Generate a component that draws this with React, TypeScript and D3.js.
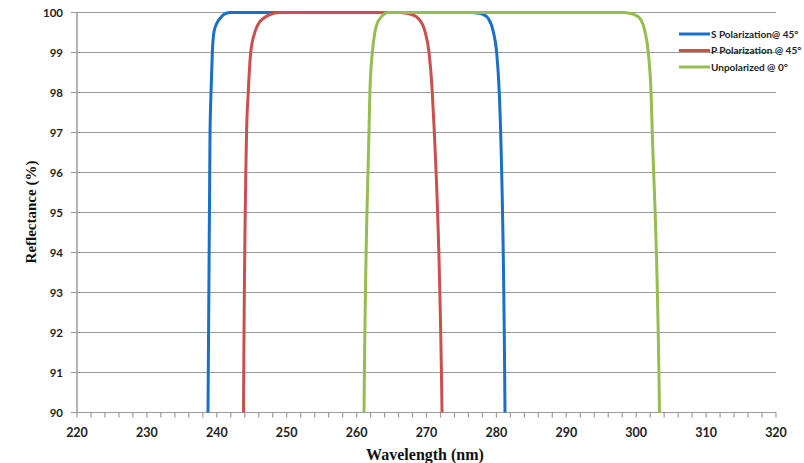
import React from "react";
import * as d3 from "d3";

// S polarization @ 45 deg (blue)
const sWave = [238.62, 238.74, 239.03, 239.17, 239.36, 239.6, 240.0, 240.46, 241.0, 241.9, 276.5, 277.2, 278.1, 278.84, 279.56, 280.04, 280.41, 280.61, 281.23, 281.35];
const sRefl = [85, 90, 97, 98, 99, 99.52, 99.73, 99.85, 99.95, 100, 100, 99.99, 99.95, 99.85, 99.52, 99, 98, 97, 90, 85];

// P polarization @ 45 deg (red)
const pWave = [243.7, 243.82, 244.26, 244.5, 244.85, 245.47, 246.0, 246.65, 247.6, 249.0, 266.3, 266.92, 267.9, 268.83, 269.79, 270.36, 270.83, 271.12, 272.22, 272.35];
const pRefl = [85, 90, 97, 98, 99, 99.52, 99.73, 99.85, 99.95, 100, 100, 99.99, 99.95, 99.85, 99.52, 99, 98, 97, 90, 85];

// Unpolarized @ 0 deg (green)
const uWave = [260.95, 261.06, 261.77, 261.9, 262.25, 262.63, 262.95, 263.35, 263.85, 264.5, 298.3, 298.87, 299.7, 300.54, 301.26, 301.73, 302.12, 302.3, 303.33, 303.45];
const uRefl = [85, 90, 97, 98, 99, 99.52, 99.73, 99.85, 99.95, 100, 100, 99.99, 99.95, 99.85, 99.52, 99, 98, 97, 90, 85];

const seriesNames = ["S Polarization@ 45\u00b0", "P Polarization @ 45\u00b0", "Unpolarized @ 0\u00b0"];
const seriesColors = ["#1a6fc6", "#c9504c", "#95bd4f"];

const xTicks = d3.range(220, 321, 10);
const xMinor = d3.range(220, 321, 2);
const yTicks = d3.range(90, 100.5, 1);

export default function App() {
  const width = 804;
  const height = 463;
  const x = d3.scaleLinear().domain([220, 320]).range([77, 776]);
  const y = d3.scaleLinear().domain([90, 100]).range([412.5, 12.5]);

  const line = d3
    .line<[number, number]>()
    .x((d) => x(d[0]))
    .y((d) => y(d[1]))
    .curve(d3.curveMonotoneX);

  const series = [
    d3.zip(sWave, sRefl) as [number, number][],
    d3.zip(pWave, pRefl) as [number, number][],
    d3.zip(uWave, uRefl) as [number, number][],
  ];

  const grid = "#9b9b9b";
  const tickFont = "Lato, 'Open Sans', sans-serif";
  const titleFont = "'Liberation Serif', 'DejaVu Serif', serif";

  return (
    <svg width={width} height={height} style={{ position: "absolute", left: 0, top: 0, background: "#fff" }}>
      <defs>
        <clipPath id="plot">
          <rect x={x(220)} y={0} width={x(320) - x(220)} height={y(90)} />
        </clipPath>
      </defs>

      {/* horizontal gridlines */}
      {yTicks.map((t) => (
        <g key={t}>
          <line x1={x(220) - 6} x2={x(320)} y1={y(t)} y2={y(t)} stroke={grid} strokeWidth={1.2} />
          <text
            x={63}
            y={y(t)}
            dy="0.35em"
            textAnchor="end"
            fontFamily={tickFont}
            fontWeight="bold"
            fontSize={11.5}
            fill="#222"
          >
            {t}
          </text>
        </g>
      ))}

      {/* axes */}
      <line x1={x(220)} x2={x(220)} y1={y(100)} y2={y(90)} stroke={grid} strokeWidth={1.5} />
      {xMinor.map((t) => (
        <line key={t} x1={x(t)} x2={x(t)} y1={y(90)} y2={y(90) + 5} stroke={grid} strokeWidth={1.2} />
      ))}
      {xTicks.map((t) => (
        <text
          key={t}
          x={x(t)}
          y={437}
          textAnchor="middle"
          fontFamily={tickFont}
          fontWeight="bold"
          fontSize={12.5}
          fill="#222"
        >
          {t}
        </text>
      ))}

      {/* curves */}
      <g clipPath="url(#plot)">
        {series.map((s, i) => (
          <path key={i} d={line(s) ?? ""} fill="none" stroke={seriesColors[i]} strokeWidth={3} />
        ))}
      </g>

      {/* legend */}
      {seriesNames.map((name, i) => (
        <g key={name} transform={`translate(679,${34 + i * 16.5})`}>
          <line x1={0} x2={31} y1={0} y2={0} stroke={seriesColors[i]} strokeWidth={3} />
          <text x={32} y={0} dy="0.35em" fontFamily={tickFont} fontWeight="bold" fontSize={10} fill="#222">
            {name}
          </text>
        </g>
      ))}

      {/* axis titles */}
      <text
        transform={`translate(36,212) rotate(-90)`}
        textAnchor="middle"
        fontFamily={titleFont}
        fontWeight="bold"
        fontSize={15}
        fill="#111"
      >
        Reflectance (%)
      </text>
      <text x={425} y={460} textAnchor="middle" fontFamily={titleFont} fontWeight="bold" fontSize={16} fill="#111">
        Wavelength (nm)
      </text>
    </svg>
  );
}
